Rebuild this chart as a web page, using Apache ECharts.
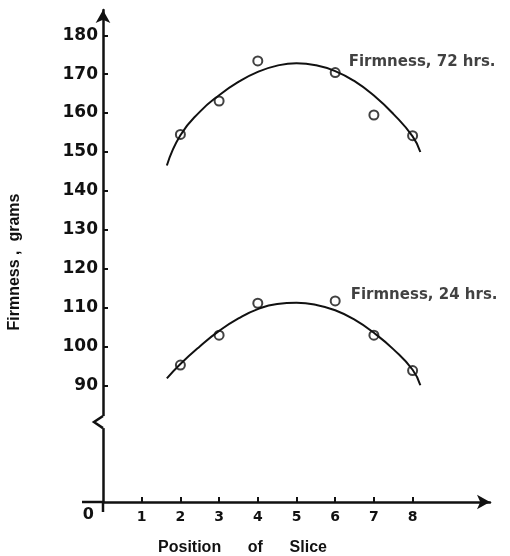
<!DOCTYPE html>
<html>
<head>
<meta charset="utf-8">
<script src="https://cdn.jsdelivr.net/npm/echarts@6.0.0/dist/echarts.min.js"></script>
<style>
  html, body { margin: 0; padding: 0; background: #fff; }
  #chart-container { width: 510px; height: 556px; }
</style>
</head>
<body>
<div id="chart-container"></div>
<script>
// measured points (position of slice -> firmness, grams)
var positions = [2, 3, 4, 6, 7, 8];
var firm72 = [154.5, 163.1, 173.4, 170.4, 159.5, 154.2];
var firm24 = [95.2, 102.9, 111.1, 111.7, 102.9, 93.8];

// fitted curves as drawn
var curveX = [1.65, 2, 2.5, 3, 3.5, 4, 4.5, 5, 5.5, 6, 6.5, 7, 7.5, 8, 8.2];
var curve72 = [146.5, 154.3, 160.3, 164.6, 168, 170.6, 172.2, 172.8, 172.3, 170.8, 168.2, 164.5, 159.8, 154, 150];
var curve24 = [91.8, 95.5, 100, 104, 107.2, 109.6, 110.9, 111.2, 110.7, 109.3, 106.9, 103.5, 99.3, 94, 90];

var seriesNames = ['Firmness, 72 hrs.', 'Firmness, 24 hrs.'];
var labelAt = 6;

// axis ticks; the y axis is broken, its bottom (value 60) is labelled 0
var xTicks = [1, 2, 3, 4, 5, 6, 7, 8];
var yTicks = [90, 100, 110, 120, 130, 140, 150, 160, 170, 180];
var yBottom = 60;
var breakTop = 82.1, breakBottom = 79;

var ink = '#111';

function pairs(xs, ys) {
    return xs.map(function (x, i) { return [x, ys[i]]; });
}

var dom = document.getElementById('chart-container');
var myChart = echarts.init(dom, null, { renderer: 'canvas' });

function curveSeries(data) {
    return {
        type: 'line',
        data: data,
        smooth: true,
        showSymbol: false,
        silent: true,
        lineStyle: { color: ink, width: 2 },
        z: 2
    };
}

function pointSeries(name, data, offset) {
    return {
        type: 'scatter',
        name: name,
        data: data,
        symbol: 'circle',
        symbolSize: 9,
        itemStyle: { color: 'rgba(255,255,255,0)', borderColor: ink, borderWidth: 2 },
        label: {
            show: true,
            position: 'right',
            offset: offset,
            color: ink,
            fontFamily: 'DejaVu Sans',
            fontWeight: 'bold',
            fontSize: 15,
            formatter: function (p) { return p.value[0] === labelAt ? name : ''; }
        },
        z: 3
    };
}

var option = {
    animation: false,
    backgroundColor: '#fff',
    grid: { left: 103, right: 20, top: 10, bottom: 54, outerBoundsMode: 'none', containLabel: false },
    xAxis: {
        type: 'value',
        min: 0,
        max: 10,
        name: 'Position      of      Slice',
        nameLocation: 'middle',
        nameGap: 38,
        nameTextStyle: {
            color: ink, fontFamily: 'Liberation Sans', fontWeight: 'bold', fontSize: 16,
            padding: [0, 108, 0, 0]
        },
        splitLine: { show: false },
        axisLine: {
            onZero: false,
            lineStyle: { color: ink, width: 2.5 },
            symbol: ['none', 'arrow'],
            symbolSize: [11, 13]
        },
        axisTick: { customValues: xTicks, inside: true, length: 5, lineStyle: { color: ink, width: 2 } },
        axisLabel: {
            customValues: xTicks,
            margin: 8,
            color: ink,
            fontFamily: 'DejaVu Sans',
            fontWeight: 'bold',
            fontSize: 14
        }
    },
    yAxis: {
        type: 'value',
        min: yBottom,
        max: 186.5,
        name: 'Firmness ,  grams',
        nameLocation: 'middle',
        nameGap: 80,
        nameTextStyle: {
            color: ink, fontFamily: 'Liberation Sans', fontWeight: 'bold', fontSize: 16,
            padding: [0, 12, 0, 0]
        },
        splitLine: { show: false },
        axisLine: {
            onZero: false,
            lineStyle: { color: ink, width: 2.5 },
            symbol: ['none', 'arrow'],
            symbolSize: [11, 13]
        },
        axisTick: { customValues: yTicks, inside: true, length: 5, lineStyle: { color: ink, width: 2 } },
        axisLabel: {
            customValues: [yBottom].concat(yTicks),
            margin: 5,
            color: ink,
            fontFamily: 'DejaVu Sans',
            fontWeight: 'bold',
            fontSize: 17,
            formatter: function (v) { return v === yBottom ? '{z|0}' : String(v); },
            rich: {
                z: { padding: [26, 4, 0, 0], fontSize: 16, fontFamily: 'DejaVu Sans', fontWeight: 'bold', color: ink }
            }
        }
    },
    series: [
        curveSeries(pairs(curveX, curve72)),
        curveSeries(pairs(curveX, curve24)),
        pointSeries(seriesNames[0], pairs(positions, firm72), [3, -11]),
        pointSeries(seriesNames[1], pairs(positions, firm24), [5, -6])
    ]
};

myChart.setOption(option);

// axis break mark "<", plus the short stubs where the two axes cross
var pTop = myChart.convertToPixel({ gridIndex: 0 }, [0, breakTop]);
var pBot = myChart.convertToPixel({ gridIndex: 0 }, [0, breakBottom]);
var pZero = myChart.convertToPixel({ gridIndex: 0 }, [0, yBottom]);
var ax = pTop[0];
myChart.setOption({
    graphic: [
        {
            type: 'rect', z: 100,
            shape: { x: ax - 3, y: pTop[1], width: 6, height: pBot[1] - pTop[1] },
            style: { fill: '#fff' }
        },
        {
            type: 'polyline', z: 101,
            shape: { points: [[ax, pTop[1]], [ax - 9, (pTop[1] + pBot[1]) / 2], [ax, pBot[1]]] },
            style: { stroke: ink, lineWidth: 2.5, fill: null }
        },
        {
            type: 'line', z: 101,
            shape: { x1: ax, y1: pZero[1], x2: ax, y2: pZero[1] + 10 },
            style: { stroke: ink, lineWidth: 2.5 }
        },
        {
            type: 'line', z: 101,
            shape: { x1: ax - 21, y1: pZero[1], x2: ax, y2: pZero[1] },
            style: { stroke: ink, lineWidth: 2.5 }
        }
    ]
});

window.addEventListener('resize', function () {
    myChart.resize();
});
</script>
</body>
</html>
